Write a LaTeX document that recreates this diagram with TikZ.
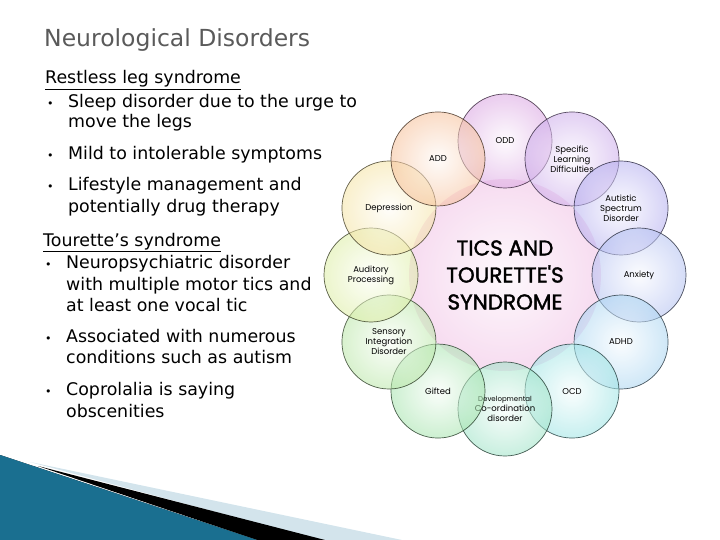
\documentclass[tikz,border=0pt]{standalone}
\usepackage{fontspec}
\setmainfont{DejaVu Sans}
\newfontfamily\bubblefont{Poppins}
\newfontfamily\hubfont[FakeBold=1.6]{Poppins}
\usepackage{tikz}
\usetikzlibrary{calc}
\definecolor{titlegray}{HTML}{5A5A5A}
\definecolor{hubpink}{HTML}{F0BFE4}
\definecolor{cADD}{HTML}{F4B486}
\definecolor{cODD}{HTML}{D393DC}
\definecolor{cSLD}{HTML}{C29BE6}
\definecolor{cASD}{HTML}{A59EEC}
\definecolor{cANX}{HTML}{A4B4EE}
\definecolor{cADHD}{HTML}{98CCEE}
\definecolor{cOCD}{HTML}{88DEDE}
\definecolor{cDCD}{HTML}{8ADDBB}
\definecolor{cGIF}{HTML}{93DE9C}
\definecolor{cSID}{HTML}{ACE296}
\definecolor{cAUD}{HTML}{D6EA92}
\definecolor{cDEP}{HTML}{F2DE92}
\definecolor{tealdark}{HTML}{1A6F90}
\definecolor{teallight}{HTML}{56B6DA}
\definecolor{wedge}{HTML}{D3E4EC}
\tikzset{
  titletext/.style={anchor=base west, inner sep=0pt, text=titlegray, font=\fontsize{23.5}{28}\selectfont},
  bodytext/.style={anchor=base west, inner sep=0pt, font=\fontsize{17.4}{20}\selectfont},
  dot/.style={anchor=base west, inner sep=0pt, font=\fontsize{11}{20}\selectfont},
  bubble/.style={circle, minimum size=94pt, inner sep=0pt, align=center,
    shading=radial, inner color=#1!8, outer color=#1!85, fill opacity=0.55,
    text opacity=1, draw=#1!30!black, draw opacity=0.85, line width=0.7pt,
    font=\bubblefont\fontsize{8.5}{10}\selectfont},
  hub/.style={circle, minimum size=192pt, inner sep=0pt, align=center,
    shading=radial, inner color=hubpink!10, outer color=hubpink!55,
    font=\hubfont\fontsize{21.5}{27}\selectfont},
}

\begin{document}
\begin{tikzpicture}[x=1pt,y=-1pt]
  \useasboundingbox (0,0) rectangle (720,540);

  % corner decoration
  \fill[wedge] (30,462) -- (402,540) -- (320,540) -- cycle;
  \fill[black] (38,466) -- (325,540) -- (257,540) -- cycle;
  \fill[left color=tealdark, middle color=teallight, right color=tealdark]
    (0,455) -- (257,540) -- (0,540) -- cycle;

  % title
  \node[titletext] (title) at (44,47) {Neurological Disorders};

  % restless legs
  \node[bodytext] (rls) at (45,84) {\underline{Restless leg syndrome}};
  \node[dot] (d1) at (47,108) {•};
  \node[bodytext] (r1) at (68,108) {Sleep disorder due to the urge to};
  \node[bodytext] (r2) at (68,128) {move the legs};
  \node[dot] (d2) at (47,160) {•};
  \node[bodytext] (r3) at (68,160) {Mild to intolerable symptoms};
  \node[dot] (d3) at (47,191) {•};
  \node[bodytext] (r4) at (68,191) {Lifestyle management and};
  \node[bodytext] (r5) at (68,212) {potentially drug therapy};

  % tourette
  \node[bodytext] (ts) at (43,246) {\underline{Tourette’s syndrome}};
  \node[dot] (d4) at (45,268) {•};
  \node[bodytext] (t1) at (66,268) {Neuropsychiatric disorder};
  \node[bodytext] (t2) at (66,290) {with multiple motor tics and};
  \node[bodytext] (t3) at (66,311) {at least one vocal tic};
  \node[dot] (d5) at (45,342) {•};
  \node[bodytext] (t4) at (66,342) {Associated with numerous};
  \node[bodytext] (t5) at (66,363) {conditions such as autism};
  \node[dot] (d6) at (45,395) {•};
  \node[bodytext] (t6) at (66,395) {Coprolalia is saying};
  \node[bodytext] (t7) at (66,417) {obscenities};

  % ring of conditions
  \node[hub] (tics) at (505,275) {TICS AND\\TOURETTE'S\\SYNDROME};
  \foreach \ang/\name/\col/\txt in {
      -90/odd/cODD/{ODD},
      -60/sld/cSLD/{Specific\\Learning\\Difficulties},
      -30/asd/cASD/{Autistic\\Spectrum\\Disorder},
      0/anx/cANX/{Anxiety},
      30/adhd/cADHD/{ADHD},
      60/ocd/cOCD/{OCD},
      90/dcd/cDCD/{\fontsize{7}{8.5}\selectfont Developmental\\Co-ordination\\disorder},
      120/gif/cGIF/{Gifted},
      150/sid/cSID/{Sensory\\Integration\\Disorder},
      180/aud/cAUD/{Auditory\\Processing},
      210/dep/cDEP/{Depression},
      240/add/cADD/{ADD}}
    \node[bubble=\col] (\name) at ([shift={(\ang:134)}]tics) {\txt};
\end{tikzpicture}
\end{document}
